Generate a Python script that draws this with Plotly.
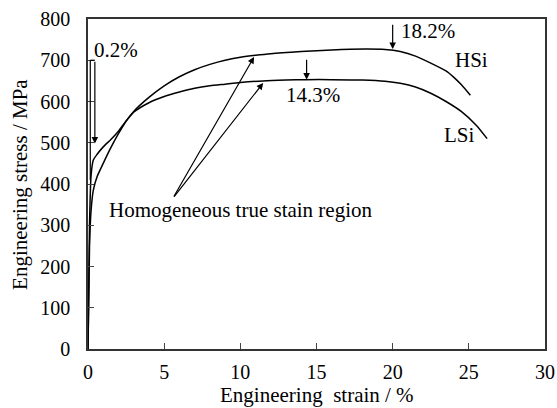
import plotly.graph_objects as go

# Data (engineering strain %, engineering stress MPa)
hsi_strain = [0, 0.1, 0.2, 0.35, 0.6, 1.0, 1.5, 2.0, 2.5, 3.0, 4.0, 5.0, 6.0, 7.0, 8.0, 9.0,
              10.0, 11.0, 12.0, 14.0, 16.0, 18.2, 19.5, 20.5, 21.5, 22.5, 23.5, 24.0, 24.5, 25.1]
hsi_stress = [0, 250, 335, 385, 418, 450, 488, 522, 552, 576, 610, 638, 660, 677, 690, 700,
              707, 712, 716, 721, 725, 727, 726, 721, 710, 693, 674, 659, 641, 615]

lsi_strain = [0, 0.1, 0.2, 0.35, 0.6, 1.0, 1.5, 2.0, 2.5, 3.0, 4.0, 5.0, 6.0, 7.0, 8.0, 9.0,
              10.0, 11.5, 13.0, 14.3, 16.0, 18.0, 19.5, 20.5, 21.5, 22.5, 23.5, 24.5, 25.5, 26.2]
lsi_stress = [0, 300, 420, 458, 472, 490, 508, 528, 553, 574, 597, 612, 623, 632, 638, 642,
              646, 650, 652, 653, 653, 652, 649, 644, 635, 620, 600, 576, 542, 510]

x_ticks = [0, 5, 10, 15, 20, 25, 30]
y_ticks = [0, 100, 200, 300, 400, 500, 600, 700, 800]
x_title = "Engineering  strain / %"
y_title = "Engineering stress / MPa"

FONT = "Liberation Serif, Times New Roman, serif"
fig = go.Figure()
fig.add_trace(go.Scatter(x=hsi_strain, y=hsi_stress, mode="lines", line=dict(color="black", width=1.5, shape="spline", smoothing=0.6), name="HSi", showlegend=False))
fig.add_trace(go.Scatter(x=lsi_strain, y=lsi_stress, mode="lines", line=dict(color="black", width=1.5, shape="spline", smoothing=0.6), name="LSi", showlegend=False))

# 0.2% offset marker lines
fig.add_shape(type="line", x0=0.15, x1=0.15, y0=700, y1=410, line=dict(color="black", width=1.2))
fig.add_shape(type="line", x0=0.15, x1=0.45, y0=700, y1=700, line=dict(color="black", width=1.2))

ann = []
def arrow(x0, y0, x1, y1):
    ann.append(dict(x=x1, y=y1, ax=x0, ay=y0, xref="x", yref="y", axref="x", ayref="y",
                    showarrow=True, arrowhead=2, arrowsize=1.1, arrowwidth=1.2, arrowcolor="black", text=""))

arrow(0.45, 700, 0.45, 498)
arrow(20.0, 790, 20.0, 727)
arrow(14.35, 705, 14.35, 653)
arrow(5.58, 366, 10.9, 708)
arrow(5.58, 366, 11.5, 645)

def label(x, y, t, xanchor="center"):
    ann.append(dict(x=x, y=y, xref="x", yref="y", text=t, showarrow=False, xanchor=xanchor,
                    yanchor="middle", font=dict(family=FONT, size=21, color="black")))

label(0.25, 725, "0.2%", "left")
label(20.4, 770, "18.2%", "left")
label(14.8, 616, "14.3%")
label(25.15, 700, "HSi")
label(24.4, 519, "LSi")
label(10.05, 337, "Homogeneous true stain region")

# axis titles as paper-anchored annotations
ann.append(dict(x=0.5, y=-0.139, xref="paper", yref="paper", text=x_title, showarrow=False,
                xanchor="center", yanchor="middle", font=dict(family=FONT, size=21, color="black")))
ann.append(dict(x=-0.149, y=0.5, xref="paper", yref="paper", text=y_title, showarrow=False, textangle=-90,
                xanchor="center", yanchor="middle", font=dict(family=FONT, size=21, color="black")))

fig.update_layout(
    width=557, height=408,
    margin=dict(l=88, r=12, t=19, b=59),
    paper_bgcolor="white", plot_bgcolor="white",
    font=dict(family=FONT, size=20, color="black"),
    annotations=ann,
    xaxis=dict(range=[0, 30], tickvals=x_ticks, ticks="inside", ticklen=6, tickwidth=1.2,
               showline=True, linecolor="#333", linewidth=1.5, mirror=True, showgrid=False, zeroline=False,
               ticklabelstandoff=4, automargin=False),
    yaxis=dict(range=[0, 800], tickvals=y_ticks, ticks="inside", ticklen=6, tickwidth=1.2,
               showline=True, linecolor="#333", linewidth=1.5, mirror=True, showgrid=False, zeroline=False,
               ticklabelstandoff=12, automargin=False),
)
fig.write_html("out.html")
